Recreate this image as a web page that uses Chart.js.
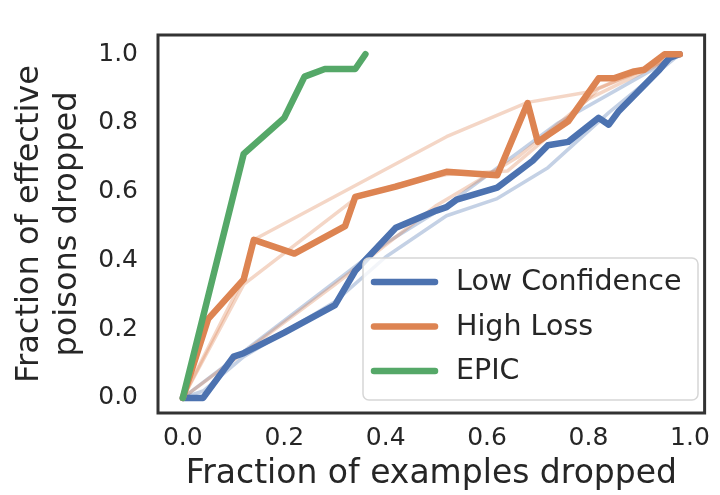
<!DOCTYPE html>
<html>
<head>
<meta charset="utf-8">
<script src="https://cdn.jsdelivr.net/npm/chart.js@4.4.1/dist/chart.umd.min.js"></script>
<style>
  html, body { margin: 0; padding: 0; background: #fff; }
  #wrap { width: 720px; height: 495px; }
</style>
</head>
<body>
<div id="wrap"><canvas id="chart" width="720" height="495"></canvas></div>
<script>
// tick labels
const xTicks = [0, 0.2, 0.4, 0.6, 0.8, 1.0];
const yTicks = [0, 0.2, 0.4, 0.6, 0.8, 1.0];

// main series
const seriesNames = ['Low Confidence', 'High Loss', 'EPIC'];

const lowConfX = [0, 0.04, 0.10, 0.12, 0.20, 0.30, 0.34, 0.42, 0.50, 0.52, 0.54, 0.62, 0.69, 0.72, 0.76, 0.82, 0.84, 0.86, 0.94, 0.96, 0.98];
const lowConfY = [0, 0, 0.12, 0.13, 0.19, 0.27, 0.37, 0.495, 0.545, 0.555, 0.577, 0.612, 0.69, 0.735, 0.745, 0.815, 0.795, 0.835, 0.955, 0.99, 1.0];

const highLossX = [0, 0.05, 0.12, 0.14, 0.22, 0.32, 0.34, 0.42, 0.52, 0.62, 0.68, 0.70, 0.76, 0.82, 0.85, 0.89, 0.91, 0.95, 0.98];
const highLossY = [0, 0.23, 0.345, 0.46, 0.42, 0.50, 0.585, 0.615, 0.658, 0.648, 0.858, 0.745, 0.805, 0.93, 0.93, 0.95, 0.955, 1.0, 1.0];

const epicX = [0, 0.12, 0.20, 0.24, 0.28, 0.34, 0.36];
const epicY = [0, 0.71, 0.815, 0.935, 0.957, 0.957, 1.0];

// individual runs (faint)
const lowConfRun1X = [0, 0.04, 0.12, 0.30, 0.40, 0.52, 0.62, 0.72, 0.84, 0.98];
const lowConfRun1Y = [0, 0.02, 0.12, 0.28, 0.41, 0.53, 0.58, 0.67, 0.83, 1.0];
const lowConfRun2X = [0, 0.40, 0.52, 0.74, 0.86, 0.98];
const lowConfRun2Y = [0, 0.45, 0.56, 0.80, 0.90, 1.0];

const highLossRun1X = [0, 0.12, 0.14, 0.52, 0.68, 0.80, 0.90, 0.98];
const highLossRun1Y = [0, 0.35, 0.46, 0.76, 0.86, 0.89, 0.95, 1.0];
const highLossRun2X = [0, 0.12, 0.34, 0.42, 0.52, 0.64, 0.72, 0.82, 0.98];
const highLossRun2Y = [0, 0.33, 0.58, 0.62, 0.65, 0.66, 0.76, 0.90, 1.0];
const highLossRun3X = [0, 0.30, 0.50, 0.66, 0.80, 0.98];
const highLossRun3Y = [0, 0.33, 0.56, 0.70, 0.87, 1.0];

const colors = ['#4C72B0', '#DD8452', '#55A868'];
const faintColors = ['rgba(76,114,176,0.33)', 'rgba(221,132,82,0.33)'];
const textColor = '#262626';
const fontFamily = '"DejaVu Sans", sans-serif';

const pts = (xs, ys) => xs.map((x, i) => ({ x: x, y: ys[i] }));

const mainLine = (label, xs, ys, color, order) => ({
  label: label,
  data: pts(xs, ys),
  borderColor: color,
  backgroundColor: color,
  borderWidth: 6.5,
  borderCapStyle: 'round',
  borderJoinStyle: 'round',
  pointRadius: 0,
  tension: 0,
  fill: false,
  order: order,
});

const faintLine = (xs, ys, color) => ({
  label: '',
  data: pts(xs, ys),
  borderColor: color,
  borderWidth: 3.5,
  borderJoinStyle: 'round',
  pointRadius: 0,
  tension: 0,
  fill: false,
  order: 3,
});

// legend drawn inside the plot, lower right
const innerLegend = {
  id: 'innerLegend',
  afterDatasetsDraw(chart) {
    const ctx = chart.ctx;
    const bx = 363, by = 258, bw = 335, bh = 142, r = 6;
    ctx.save();
    ctx.beginPath();
    ctx.moveTo(bx + r, by);
    ctx.arcTo(bx + bw, by, bx + bw, by + bh, r);
    ctx.arcTo(bx + bw, by + bh, bx, by + bh, r);
    ctx.arcTo(bx, by + bh, bx, by, r);
    ctx.arcTo(bx, by, bx + bw, by, r);
    ctx.closePath();
    ctx.fillStyle = 'rgba(255,255,255,0.8)';
    ctx.fill();
    ctx.strokeStyle = '#d6d6d6';
    ctx.lineWidth = 1.5;
    ctx.stroke();

    ctx.font = '28.5px ' + fontFamily;
    ctx.textBaseline = 'middle';
    ctx.textAlign = 'left';
    seriesNames.forEach((name, i) => {
      const cy = 282 + i * 44.5;
      ctx.beginPath();
      ctx.moveTo(374, cy);
      ctx.lineTo(435, cy);
      ctx.strokeStyle = colors[i];
      ctx.lineWidth = 6.5;
      ctx.lineCap = 'round';
      ctx.stroke();
      ctx.fillStyle = textColor;
      ctx.fillText(name, 456, cy + 1);
    });
    ctx.restore();
  },
  afterDraw(chart) {
    const a = chart.chartArea;
    const ctx = chart.ctx;
    ctx.save();
    ctx.strokeStyle = '#333333';
    ctx.lineWidth = 3;
    ctx.strokeRect(a.left, a.top, a.right - a.left, a.bottom - a.top);
    ctx.restore();
  }
};

new Chart(document.getElementById('chart'), {
  type: 'line',
  data: {
    datasets: [
      mainLine(seriesNames[2], epicX, epicY, colors[2], 0),
      mainLine(seriesNames[1], highLossX, highLossY, colors[1], 1),
      mainLine(seriesNames[0], lowConfX, lowConfY, colors[0], 2),
      faintLine(highLossRun1X, highLossRun1Y, faintColors[1]),
      faintLine(highLossRun2X, highLossRun2Y, faintColors[1]),
      faintLine(highLossRun3X, highLossRun3Y, faintColors[1]),
      faintLine(lowConfRun1X, lowConfRun1Y, faintColors[0]),
      faintLine(lowConfRun2X, lowConfRun2Y, faintColors[0]),
    ],
  },
  options: {
    responsive: false,
    devicePixelRatio: 1,
    animation: false,
    layout: { padding: { top: 10, right: 8, left: 0, bottom: 0 } },
    plugins: {
      legend: { display: false },
      tooltip: { enabled: false },
    },
    scales: {
      x: {
        type: 'linear',
        min: -0.049,
        max: 1.029,
        grid: { display: false, drawTicks: false },
        border: { display: false },
        afterFit: (s) => { s.height = 82; },
        afterBuildTicks: (s) => { s.ticks = xTicks.map(v => ({ value: v })); },
        ticks: {
          padding: 10,
          color: textColor,
          font: { family: fontFamily, size: 25 },
          callback: (v) => Number(v).toFixed(1),
        },
        title: {
          display: true,
          text: 'Fraction of examples dropped',
          color: textColor,
          font: { family: fontFamily, size: 33 },
          padding: { top: 0, bottom: 1 },
        },
      },
      y: {
        type: 'linear',
        min: -0.044,
        max: 1.056,
        grid: { display: false, drawTicks: false },
        border: { display: false },
        afterFit: (s) => { s.width = 158; },
        afterBuildTicks: (s) => { s.ticks = yTicks.map(v => ({ value: v })); },
        ticks: {
          padding: 20,
          color: textColor,
          font: { family: fontFamily, size: 25 },
          callback: (v) => Number(v).toFixed(1),
        },
        title: {
          display: true,
          text: ['Fraction of effective', 'poisons dropped'],
          color: textColor,
          font: { family: fontFamily, size: 32 },
          padding: { top: 10, bottom: 0 },
        },
      },
    },
  },
  plugins: [innerLegend],
});
</script>
</body>
</html>
